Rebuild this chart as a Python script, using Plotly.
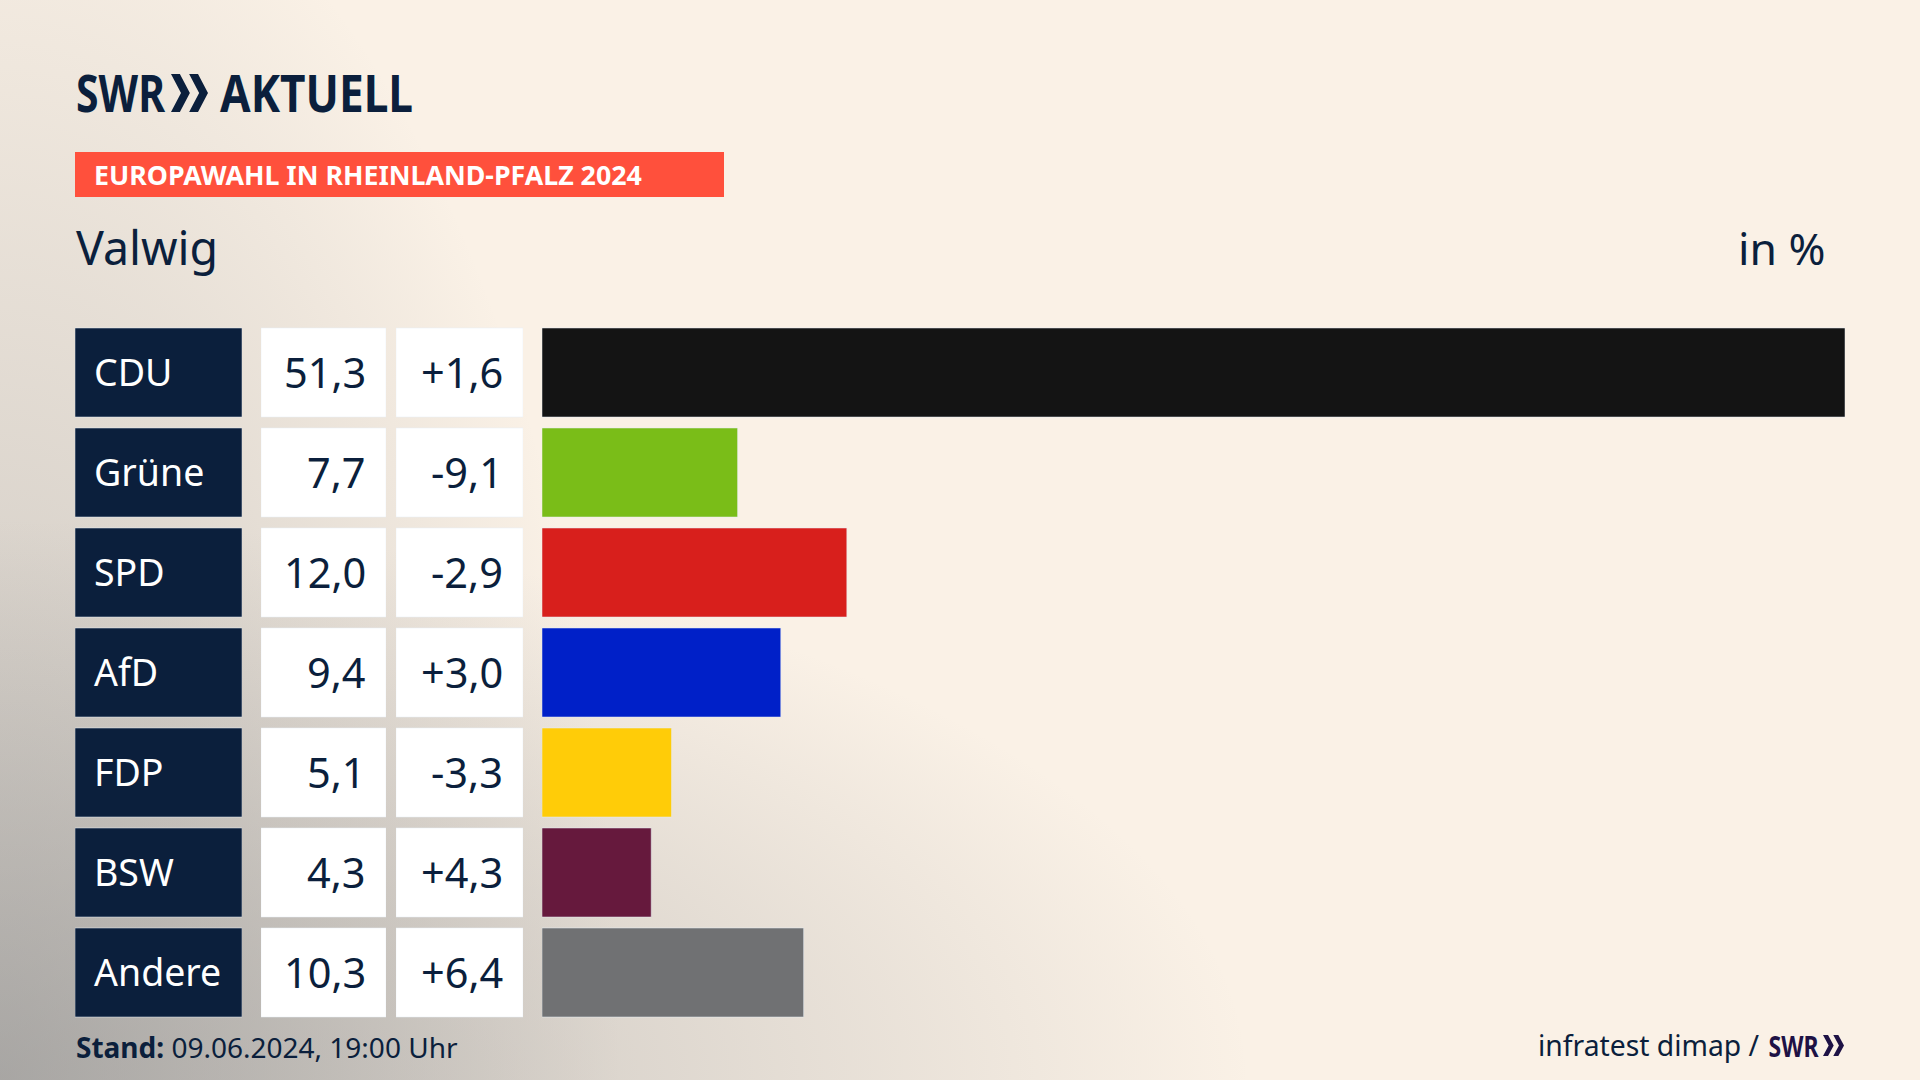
import base64
import plotly.graph_objects as go

# Ergebnisse Valwig
parties = ['CDU', 'Grüne', 'SPD', 'AfD', 'FDP', 'BSW', 'Andere']
values = [51.3, 7.7, 12.0, 9.4, 5.1, 4.3, 10.3]
changes = [1.6, -9.1, -2.9, 3.0, -3.3, 4.3, 6.4]
party_colors = ['#141414', '#7ABD18', '#D81F1C', '#0020C8', '#FFCC08', '#66193D', '#707173']

W, H = 1920, 1080
NAVY = '#0B1F3C'
FONT = 'Noto Sans'


def px(x):
    return x / W


def py(y):
    return 1 - y / H


def comma(v, signed=False):
    s = f'{v:+.1f}' if signed else f'{v:.1f}'
    return s.replace('.', ',')


def chevrons(x0, y0, w, h, color):
    # zwei Pfeile vom SWR-Logo
    out = []
    for off in (0, w * 0.49):
        pts = [(0, 0), (0.24, 0), (0.51, 0.5), (0.24, 1), (0, 1), (0.27, 0.5)]
        path = ''
        for i, (a, b) in enumerate(pts):
            path += f"{'M' if i == 0 else 'L'}{px(x0 + off + a * w):.5f},{py(y0 + b * h):.5f} "
        out.append(dict(type='path', xref='paper', yref='paper', path=path + 'Z',
                        fillcolor=color, line=dict(width=0), layer='above'))
    return out


# Hintergrund mit Verlauf unten links
svg = f'''<svg xmlns="http://www.w3.org/2000/svg" width="{W}" height="{H}">
<defs>
<radialGradient id="a" gradientUnits="userSpaceOnUse" cx="0" cy="0" r="1"
gradientTransform="translate(0 {H}) scale(620 1280)">
<stop offset="0" stop-color="#909090" stop-opacity="0.5"/><stop offset="1" stop-color="#909090" stop-opacity="0"/>
</radialGradient>
<radialGradient id="b" gradientUnits="userSpaceOnUse" cx="0" cy="0" r="1"
gradientTransform="translate(0 {H}) scale(1250 560)">
<stop offset="0" stop-color="#909090" stop-opacity="0.55"/><stop offset="1" stop-color="#909090" stop-opacity="0"/>
</radialGradient>
</defs>
<rect width="{W}" height="{H}" fill="#FAF1E6"/>
<rect width="{W}" height="{H}" fill="url(#a)"/>
<rect width="{W}" height="{H}" fill="url(#b)"/></svg>'''
bg_src = 'data:image/svg+xml;base64,' + base64.b64encode(svg.encode()).decode()

fig = go.Figure()

# Spalten: Name, Wert, Differenz, Balken
fig.add_trace(go.Bar(x=[1] * len(parties), y=parties, orientation='h', xaxis='x',
                     marker_color=NAVY, hoverinfo='skip'))
fig.add_trace(go.Bar(x=[1] * len(parties), y=parties, orientation='h', xaxis='x2',
                     marker_color='white', hoverinfo='skip'))
fig.add_trace(go.Bar(x=[1] * len(parties), y=parties, orientation='h', xaxis='x3',
                     marker_color='white', hoverinfo='skip'))
fig.add_trace(go.Bar(x=values, y=parties, orientation='h', xaxis='x4',
                     marker_color=party_colors, hoverinfo='skip'))

annotations = []


def text(x, y, s, size, color=NAVY, anchor='left', yref='paper', yshift=0):
    annotations.append(dict(x=x, y=y, xref='paper', yref=yref, text=s, showarrow=False,
                            xanchor=anchor, yanchor='middle', borderpad=0, yshift=yshift,
                            font=dict(family=FONT, size=size, color=color)))


for i, p in enumerate(parties):
    text(px(93), p, p, 37.5, color='white', yref='y', yshift=1.5)
    text(px(367), p, comma(values[i]), 41.5, anchor='right', yref='y', yshift=1)
    text(px(504), p, comma(changes[i], signed=True), 41.5, anchor='right', yref='y', yshift=1)

# Logo-Schrift wird unten per textLength schmaler gezogen
text(px(120.5), py(91), '<b>SWR</b>', 52, anchor='center')
text(px(316.5), py(91), '<b>AKTUELL</b>', 52, anchor='center')
text(px(93), py(175), '<b>EUROPAWAHL IN RHEINLAND-PFALZ 2024</b>', 26.75, color='white')
text(px(75), py(247), 'Valwig', 46.5)
text(px(1827), py(247), 'in %', 44.5, anchor='right')
text(px(75), py(1047), '<b>Stand:</b> 09.06.2024, 19:00 Uhr', 28)
text(px(1761), py(1045), 'infratest dimap /', 28.3, anchor='right')
text(px(1794), py(1045), '<b>SWR</b>', 29, color='#1E1245', anchor='center')

shapes = [dict(type='rect', xref='paper', yref='paper', x0=px(75), x1=px(724), y0=py(197), y1=py(152),
               fillcolor='#FF503C', line=dict(width=0), layer='below')]
shapes += chevrons(171, 74, 37, 38, NAVY)
shapes += chevrons(1823, 1035, 21, 21, '#1E1245')

hidden = dict(visible=False, fixedrange=True, anchor='y')
fig.update_layout(
    width=W, height=H, margin=dict(l=0, r=0, t=0, b=0),
    paper_bgcolor='#FAF1E6', plot_bgcolor='rgba(0,0,0,0)',
    showlegend=False, bargap=0.11,
    xaxis=dict(domain=[px(75), px(242)], range=[0, 1], **hidden),
    xaxis2=dict(domain=[px(261), px(386)], range=[0, 1], **hidden),
    xaxis3=dict(domain=[px(396), px(523)], range=[0, 1], **hidden),
    xaxis4=dict(domain=[px(542), px(1845)], range=[0, max(values)], **hidden),
    yaxis=dict(domain=[py(1022.5), py(322.5)], categoryorder='array', categoryarray=parties,
               range=[6.5, -0.5], visible=False, fixedrange=True),
    annotations=annotations, shapes=shapes,
    images=[dict(source=bg_src, xref='paper', yref='paper', x=0, y=1, sizex=1, sizey=1,
                 sizing='stretch', xanchor='left', yanchor='top', layer='below')],
)

post = """
document.body.style.margin = '0';
document.body.style.overflow = 'hidden';
function narrowLogo() {
  var els = document.querySelectorAll('.annotation-text');
  els.forEach(function (el) {
    var t = el.textContent, size = parseFloat(el.style.fontSize);
    var w = t === 'AKTUELL' ? 193 : (t === 'SWR' ? (size > 40 ? 89 : 50) : 0);
    if (w) { el.setAttribute('textLength', w); el.setAttribute('lengthAdjust', 'spacingAndGlyphs'); }
  });
}
narrowLogo();
setTimeout(narrowLogo, 300);
"""
fig.write_html('out.html', post_script=post, config={'displayModeBar': False})
